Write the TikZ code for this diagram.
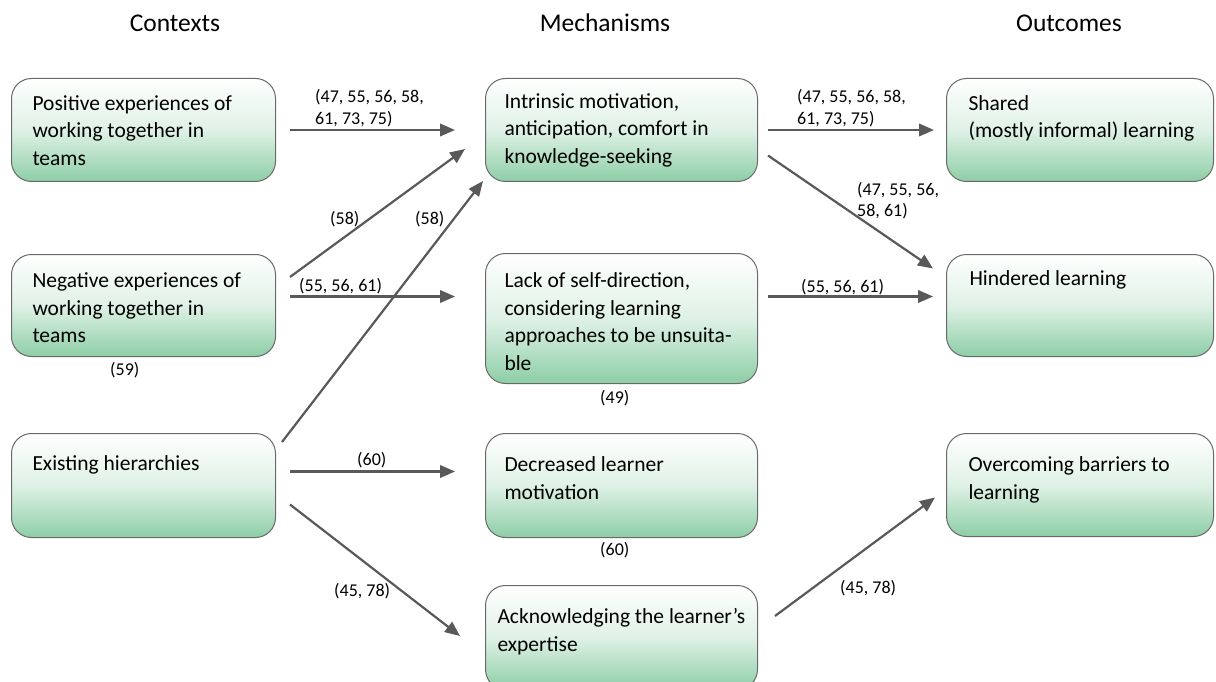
\documentclass[tikz,border=0pt]{standalone}
\usepackage{fontspec}
\setmainfont{Carlito}
\usetikzlibrary{arrows.meta,calc}

\definecolor{boxgreen}{RGB}{141,206,166}
\definecolor{boxline}{RGB}{105,105,105}
\definecolor{arrowgray}{RGB}{89,89,89}

% box text: width, height, left padding, first baseline, text
\newcommand\boxcontent[5]{\parbox[c][#2][t]{#1}{\fontsize{21.5}{27.5}\selectfont
  \raggedright\leftskip=#3\relax\rule{0pt}{#4}#5}}

\tikzset{
  box/.style={draw=boxline, line width=1pt, rounded corners=20pt,
    top color=white, bottom color=boxgreen, middle color=boxgreen!28!white,
    inner sep=0pt, anchor=north west},
  arr/.style={draw=arrowgray, line width=2.2pt,
    -{Triangle[length=15pt,width=12.5pt]}},
  % multi-line labels sit on the baseline of their last line
  lab/.style={font=\fontsize{18}{21.5}\selectfont, inner sep=0pt,
    anchor=base west, align=left},
  ttl/.style={font=\fontsize{25.5}{30}\selectfont, inner sep=0pt, anchor=base}
}

\begin{document}
\begin{tikzpicture}[x=1pt, y=-1pt]
\path[use as bounding box] (0,0) rectangle (1216,682);
\clip (0,0) rectangle (1216,682);

% column headings
\node[ttl] (hctx) at (175,32) {Contexts};
\node[ttl] (hmech) at (605,32) {Mechanisms};
\node[ttl] (hout) at (1069,32) {Outcomes};

% contexts
\node[box] (pos) at (11,78)  {\boxcontent{264pt}{103pt}{21pt}{32pt}{Positive experiences of\\working together in\\teams}};
\node[box] (neg) at (11,254) {\boxcontent{264pt}{102pt}{21pt}{33pt}{Negative experiences of\\working together in\\teams}};
\node[box] (exi) at (11,433) {\boxcontent{264pt}{104pt}{21pt}{37pt}{Existing hierarchies}};

% mechanisms
\node[box] (int)  at (485,78)  {\boxcontent{272pt}{103pt}{19pt}{30pt}{Intrinsic motivation,\\anticipation, comfort in\\knowledge-seeking}};
\node[box] (lack) at (485,253) {\boxcontent{272pt}{130pt}{19pt}{34pt}{Lack of self-direction,\\considering learning\\approaches to be unsuita-\\ble}};
\node[box] (dec)  at (485,433) {\boxcontent{272pt}{104pt}{19pt}{38pt}{Decreased learner\\motivation}};
\node[box] (ack)  at (485,585) {\boxcontent{272pt}{104pt}{12pt}{38pt}{Acknowledging the learner’s\\expertise}};

% outcomes
\node[box] (sha) at (946,78)  {\boxcontent{267pt}{103pt}{22pt}{32pt}{Shared\\(mostly informal) learning}};
\node[box] (hin) at (946,254) {\boxcontent{267pt}{102pt}{23pt}{31pt}{Hindered learning}};
\node[box] (ove) at (946,433) {\boxcontent{267pt}{103pt}{22pt}{38pt}{Overcoming barriers to\\learning}};

% connectors
\draw[arr] ($(pos.east)+(14,0)$) -- ($(int.west)+(-30,0)$);
\draw[arr] ($(neg.north east)+(14,23)$) -- ($(int.south west)+(-20,-33)$);
\draw[arr] ($(exi.north east)+(6,9)$) -- ($(int.south west)+(-2,-1)$);
\draw[arr] ($(neg.east)+(14,-9)$) -- ($(lack.west)+(-30,-22)$);
\draw[arr] ($(exi.east)+(14,-14)$) -- ($(dec.west)+(-30,-14)$);
\draw[arr] ($(exi.east)+(14,19)$) -- ($(ack.west)+(-25,-1.5)$);
\draw[arr] ($(int.east)+(10,0)$) -- ($(sha.west)+(-12,0)$);
\draw[arr] ($(int.east)+(10,25.5)$) -- ($(hin.west)+(-13,-37)$);
\draw[arr] ($(lack.east)+(10,-22)$) -- ($(hin.west)+(-13,-9)$);
\draw[arr] ($(ack.east)+(17,-21.5)$) -- ($(ove.west)+(-11,12.5)$);

% reference numbers
\node[lab] (r1) at (315,124.5) {(47, 55, 56, 58,\\61, 73, 75)};
\node[lab] (r2) at (797,124.5) {(47, 55, 56, 58,\\61, 73, 75)};
\node[lab] (r3) at (857,216.5) {(47, 55, 56,\\58, 61)};
\node[lab] (r4) at (330,224) {(58)};
\node[lab] (r5) at (415,224) {(58)};
\node[lab] (r6) at (299,291) {(55, 56, 61)};
\node[lab] (r7) at (801,292) {(55, 56, 61)};
\node[lab] (r8) at (110,375) {(59)};
\node[lab] (r9) at (600,403) {(49)};
\node[lab] (r10) at (357,465) {(60)};
\node[lab] (r11) at (600,555) {(60)};
\node[lab] (r12) at (334,596) {(45, 78)};
\node[lab] (r13) at (840,593) {(45, 78)};
\end{tikzpicture}
\end{document}
